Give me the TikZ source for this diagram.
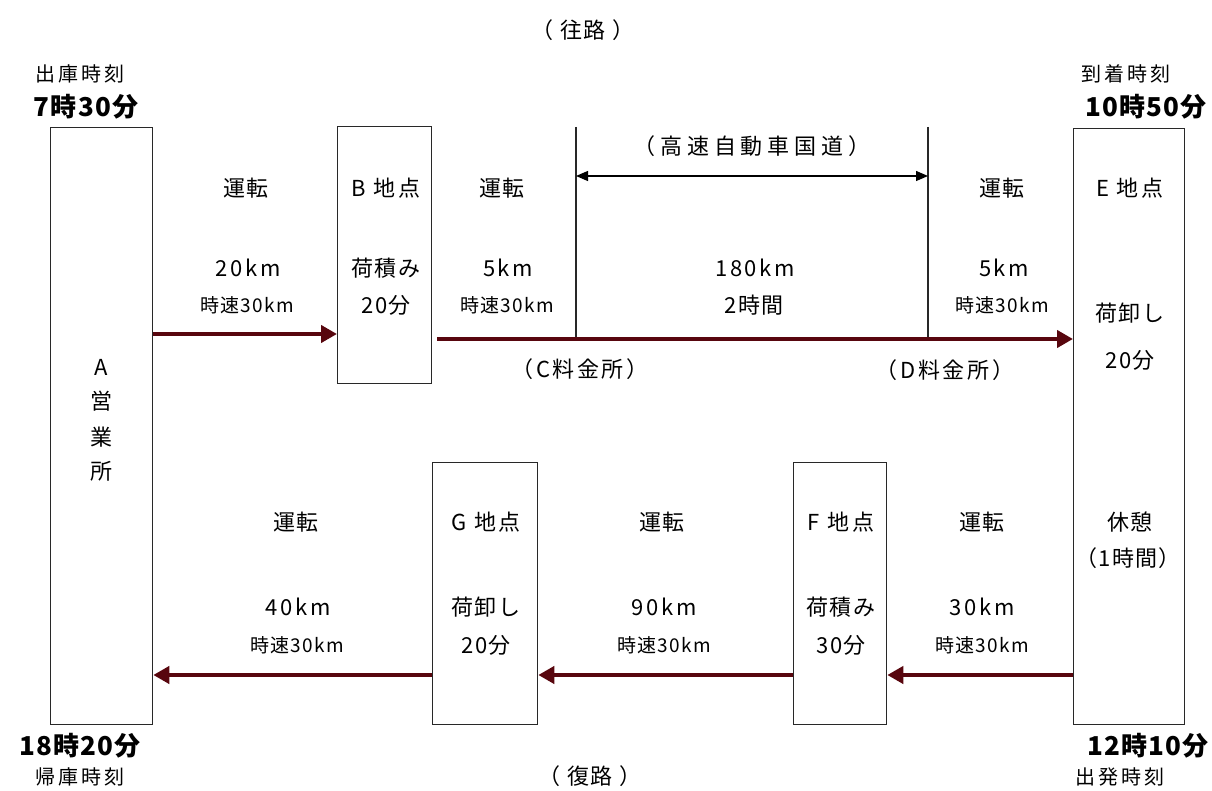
\documentclass[tikz,border=0pt]{standalone}
\usepackage{fontspec}
\setmainfont{Noto Sans CJK JP}
\usetikzlibrary{arrows.meta}
\definecolor{arrred}{RGB}{88,6,14}
\definecolor{boxline}{RGB}{40,40,40}
\newcommand{\pk}{\kern7pt}
\begin{document}
\begin{tikzpicture}[x=1pt,y=-1pt,
  box/.style={draw=boxline, line width=1.3pt, inner sep=0pt, anchor=north west},
  arr/.style={draw=arrred, line width=4pt, -{Triangle[length=16pt,width=17pt]}},
  dim/.style={draw=black, line width=1.3pt, {Triangle[length=12pt,width=10pt]}-{Triangle[length=12pt,width=10pt]}},
  vline/.style={draw=boxline, line width=1.3pt},
  txt/.style={inner sep=0pt, font=\fontsize{22}{24}\selectfont\addfontfeature{LetterSpace=6}},
  num/.style={inner sep=0pt, font=\fontsize{22}{24}\selectfont\addfontfeature{LetterSpace=12}},
  wide/.style={inner sep=0pt, font=\fontsize{22}{24}\selectfont\addfontfeature{LetterSpace=22}},
  mid/.style={inner sep=0pt, font=\fontsize{22}{24}\selectfont\addfontfeature{LetterSpace=12}},
  sm/.style={inner sep=0pt, font=\fontsize{19}{21}\selectfont\addfontfeature{LetterSpace=7}},
  lab/.style={inner sep=0pt, font=\fontsize{20}{22}\selectfont\addfontfeature{LetterSpace=15}},
  bt/.style={inner sep=0pt, font=\fontsize{26}{28}\selectfont\bfseries\addfontfeature{LetterSpace=5}}]
\useasboundingbox (0,0) rectangle (1212,791);
\fill[white] (0,0) rectangle (1212,791);

% boxes
\node[box, minimum width=102pt, minimum height=597pt] (A) at (50,127) {};
\node[box, minimum width=94pt, minimum height=257pt] (B) at (337,126) {};
\node[box, minimum width=111pt, minimum height=596pt] (E) at (1073,128) {};
\node[box, minimum width=105pt, minimum height=262pt] (G) at (432,462) {};
\node[box, minimum width=93pt, minimum height=262pt] (F) at (793,462) {};

% toll gate lines
\coordinate (Ctop) at (576,127);
\coordinate (Cbot) at (576,339);
\coordinate (Dtop) at (928,127);
\coordinate (Dbot) at (928,339);
\draw[vline] (Ctop) -- (Cbot);
\draw[vline] (Dtop) -- (Dbot);
\coordinate (Cm) at (576,176);
\coordinate (Dm) at (928,176);
\draw[dim] (Cm) -- (Dm);

% levels
\coordinate (y1) at (0,334);
\coordinate (y2) at (0,339);
\coordinate (y3) at (0,675);

% arrows
\draw[arr] (A.east |- y1) -- (B.west |- y1);
\draw[arr, shorten <=5pt] (B.east |- y2) -- (E.west |- y2);
\draw[arr] (E.west |- y3) -- (F.east |- y3);
\draw[arr] (F.west |- y3) -- (G.east |- y3);
\draw[arr] (G.west |- y3) -- (A.east |- y3);

% headers
\node[txt] (ou) at (583,30) {（\pk 往路\pk ）};
\node[txt] (fuku) at (590,776) {（\pk 復路\pk ）};
\node[lab] (l1) at (80,74) {出庫時刻};
\node[bt] (t1) at (86,107) {7時30分};
\node[lab] (l2) at (1126,74) {到着時刻};
\node[bt] (t2) at (1146,107) {10時50分};
\node[bt] (t3) at (80,746) {18時20分};
\node[lab] (l3) at (80,777) {帰庫時刻};
\node[bt] (t4) at (1148,746) {12時10分};
\node[lab] (l4) at (1120,777) {出発時刻};

% A
\node[txt] (a1) at (101,367) {A};
\node[txt] (a2) at (101,401) {営};
\node[txt] (a3) at (101,437) {業};
\node[txt] (a4) at (101,471) {所};

% top row
\node[txt] (r1a) at (246,188) {運転};
\node[num] (r1b) at (248,268) {20km};
\node[sm]  (r1c) at (247,305) {時速30km};
\node[mid] (bb1) at (386,188) {B 地点};
\node[txt] (bb2) at (386,268) {荷積み};
\node[txt] (bb3) at (386,305) {20分};
\node[txt] (r2a) at (502,188) {運転};
\node[num] (r2b) at (508,268) {5km};
\node[sm]  (r2c) at (507,305) {時速30km};
\node[wide] (hw) at (752,146) {（高速自動車国道）};
\node[num] (r3b) at (755,268) {180km};
\node[txt] (r3c) at (754,305) {2時間};
\node[txt] (r4a) at (1002,188) {運転};
\node[num] (r4b) at (1004,268) {5km};
\node[sm]  (r4c) at (1002,305) {時速30km};
\node[mid] (cc) at (580,369) {（C料金所）};
\node[mid] (dd) at (945,370) {（D料金所）};
\node[mid] (e1) at (1130,188) {E 地点};
\node[txt] (e2) at (1130,313) {荷卸し};
\node[txt] (e3) at (1130,360) {20分};
\node[txt] (e4) at (1130,522) {休憩};
\node[txt] (e5) at (1128,558) {（1時間）};

% bottom row
\node[txt] (s1a) at (296,522) {運転};
\node[num] (s1b) at (298,607) {40km};
\node[sm]  (s1c) at (297,645) {時速30km};
\node[mid] (g1) at (486,522) {G 地点};
\node[txt] (g2) at (486,607) {荷卸し};
\node[txt] (g3) at (486,645) {20分};
\node[txt] (s2a) at (662,522) {運転};
\node[num] (s2b) at (664,607) {90km};
\node[sm]  (s2c) at (664,645) {時速30km};
\node[mid] (f1) at (841,522) {F 地点};
\node[txt] (f2) at (841,607) {荷積み};
\node[txt] (f3) at (841,645) {30分};
\node[txt] (s3a) at (982,522) {運転};
\node[num] (s3b) at (982,607) {30km};
\node[sm]  (s3c) at (982,645) {時速30km};
\end{tikzpicture}
\end{document}
